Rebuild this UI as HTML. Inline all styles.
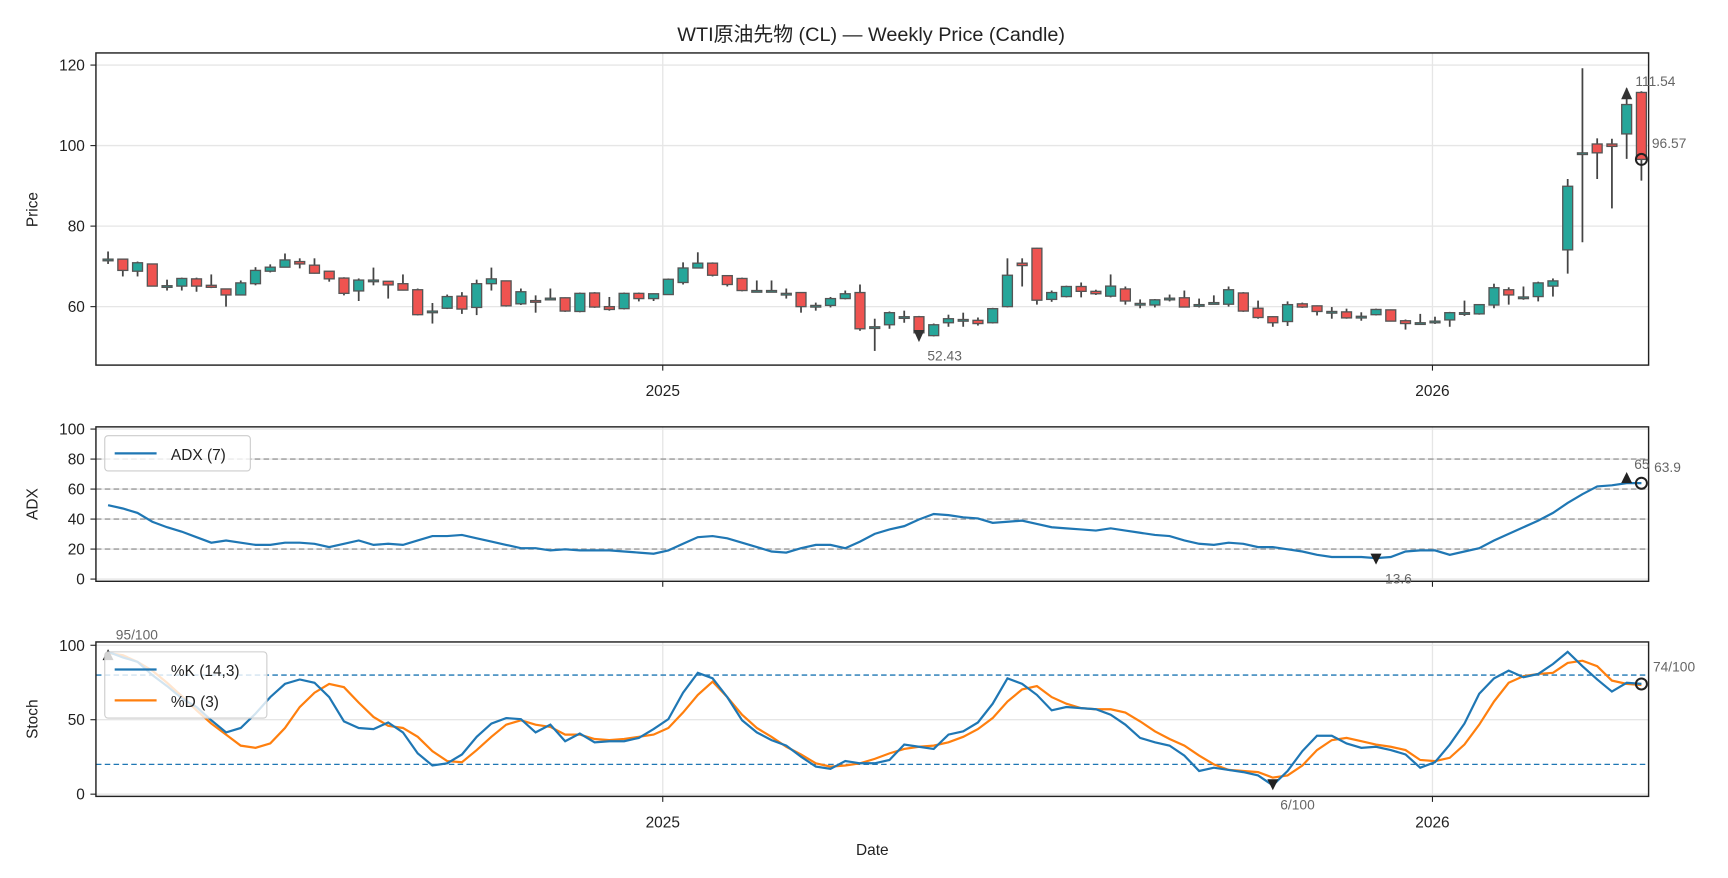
<!DOCTYPE html>
<html><head><meta charset="utf-8"><style>
html,body{margin:0;padding:0;background:#fff;}
svg{display:block;font-family:"Liberation Sans","Noto Sans CJK JP",sans-serif;}
</style></head><body>
<svg id="s" width="1728" height="878" viewBox="0 0 1567 796" preserveAspectRatio="none" xmlns="http://www.w3.org/2000/svg">
<rect width="1567" height="796" fill="#fff"/>
<text x="790" y="37" font-size="18" text-anchor="middle" fill="#222">WTI原油先物 (CL) — Weekly Price (Candle)</text>
<g id="grid" stroke="#e6e6e6" stroke-width="1.2"></g>
<g id="p1"></g>
<g id="lines" fill="none"></g>
<g id="frames" fill="none" stroke="#222" stroke-width="1.3">
<rect x="87" y="48" width="1408" height="283"/>
<rect x="87" y="387" width="1408" height="140"/>
<rect x="87" y="582" width="1408" height="140"/>
</g>
<g id="txt" font-size="14" fill="#222"></g>
</svg>
<script>
const S=document.getElementById('s'),NS='http://www.w3.org/2000/svg';
function el(p,t,a,txt){const e=document.createElementNS(NS,t);for(const k in a)e.setAttribute(k,a[k]);if(txt!==undefined)e.textContent=txt;document.getElementById(p).appendChild(e);return e;}
const X=i=>98+13.37*i, YP=p=>278-(p-60)*3.65, YA=v=>525-1.36*v, YS=v=>720-1.35*v;
[60,80,100,120].forEach(v=>el('grid','line',{x1:87,x2:1495,y1:YP(v),y2:YP(v)}));
[0,20,40,60,80,100].forEach(v=>el('grid','line',{x1:87,x2:1495,y1:YA(v),y2:YA(v)}));
[0,50,100].forEach(v=>el('grid','line',{x1:87,x2:1495,y1:YS(v),y2:YS(v)}));
[601,1299].forEach(x=>{[[48,331],[387,527],[582,722]].forEach(r=>el('grid','line',{x1:x,x2:x,y1:r[0],y2:r[1]}));});
const C=[[71.8,71.8,73.7,70.6],[71.8,69,71.8,67.5],[68.8,70.9,71.2,67.5],[70.6,65.1,70.6,65.1],[65.2,65.2,66.7,64],[65.1,67,67.2,64],[66.9,65.1,67.2,63.7],[65.3,64.8,68,64.6],[64.4,62.9,64.5,60],[62.9,65.9,66.5,62.9],[65.7,69,69.8,65.3],[68.8,69.8,70.5,68.5],[69.8,71.6,73.2,69.8],[71.2,70.6,72,69.5],[70.3,68.3,72,68.2],[68.8,66.9,68.8,66.2],[67.1,63.3,67.3,62.8],[63.9,66.6,67,61.4],[66.6,66.6,69.7,65.3],[66.3,65.4,66.3,62],[65.7,64.1,68,64],[64.2,58,64.5,57.8],[58.9,58.9,60.9,55.8],[59.6,62.5,63,59.4],[62.6,59.4,63.6,58.2],[59.8,65.7,66.7,57.9],[65.7,66.9,69.7,64],[66.4,60.2,66.5,60],[60.7,63.7,64.5,60.4],[61.5,61.1,62.8,58.5],[62.1,62.1,64.5,61.8],[62.2,58.9,62.3,58.7],[58.8,63.3,63.5,58.6],[63.4,59.9,63.6,59.7],[60,59.3,62.4,59],
[59.5,63.3,63.5,59.3],[63.3,62,63.5,61.3],[62,63.2,63.3,61.4],[63,66.8,67,62.9],[66,69.6,71,65.5],[69.6,70.8,73.5,69.5],[70.8,67.8,71,67.5],[67.7,65.5,67.8,65],[67,64,67.2,63.8],[64,64,66.5,63.8],[64,64,66.5,63.8],[63.3,63.3,64.5,62],[63.5,60,63.6,58.5],[60.3,60.3,61,59],[60.3,62,62.4,59.8],[62,63.2,64,61.8],[63.5,54.5,65.5,54],[55,55,57,49],[55.5,58.5,58.8,54.5],[57.5,57.5,59,56],[57.5,53.5,57.7,52.43],[52.8,55.5,55.8,52.6],[56,57,58,55],[56.8,56.8,58.5,55],[56.6,55.8,57.3,55.3],[56,59.5,59.7,55.8],[60,67.8,72,59.8],[70.8,70.2,72,65],[74.5,61.6,74.6,60.5],[61.8,63.5,64,61.2],[62.5,65,65.2,62.3],[65,63.8,66,62.3],[63.8,63.2,64.2,62.9],[62.6,65.1,68,62.3],
[64.4,61.4,65,60.5],[60.8,60.8,61.8,59.6],[60.4,61.7,61.9,59.8],[62.1,62.1,63,61.3],[62.2,59.9,64,59.8],[60.5,60.5,62,59.8],[61,61,62.8,60.8],[60.6,64.2,65,60],[63.4,58.9,63.6,58.7],[59.6,57.3,61.5,57],[57.5,56,57.6,55],[56.3,60.5,61.3,55.2],[60.7,59.9,61,59.7],[60.2,58.8,60.3,57.8],[58.8,58.8,59.9,57],[58.7,57.2,59.5,57],[57.6,57.6,58.6,56.5],[58,59.3,59.5,57.8],[59.2,56.4,59.3,56.3],[56.5,55.8,56.8,54.3],[56,56,58.2,55.9],[56.4,56.4,57.5,55.7],[56.7,58.5,58.7,55],[58.5,58.5,61.5,57.7],[58.2,60.5,60.6,58],[60.4,64.7,65.7,59.6],[64.2,62.9,64.8,60.5],[62.4,62.4,65,61.7],[62.5,65.9,66.2,61.3],[65.1,66.4,67,62.5],[74.1,89.9,91.7,68.2],[97.8,98.2,119.2,76],[100.4,98.2,101.8,91.7],[100.4,99.8,101.7,84.4],[102.9,110.2,114.2,96.7],[113.2,96.57,113.5,91.3]];
C.forEach((c,i)=>{const x=X(i),[o,cl,h,l]=c,up=cl>=o;
el('p1','line',{x1:x,x2:x,y1:YP(h),y2:YP(l),stroke:'#444','stroke-width':1.6});
const t=YP(Math.max(o,cl)),b=YP(Math.min(o,cl));
el('p1','rect',{x:x-4.5,y:t,width:9,height:Math.max(b-t,1.5),fill:up?'#26a69a':'#ef5350',stroke:'#555','stroke-width':1.2});});
el('p1','path',{d:`M${X(103)-5},${YP(111.5)} l5,-11 l5,11z`,fill:'#333'});
el('p1','path',{d:`M${X(55)-5},${YP(54.2)} l5,11 l5,-11z`,fill:'#333'});
el('p1','circle',{cx:X(104),cy:YP(96.57),r:5,fill:'none',stroke:'#222','stroke-width':1.8});
const ax=[458,461,465,473,478,482,487,492,490,492,494,494,492,492,493,496,493,490,494,493,494,490,486,486,485,488,491,494,497,497,499,498,499,499,499,500,501,502,499,493,487,486,488,492,496,500,501,497,494,494,497,491,484,480,477,471,466,467,469,470,474,473,472,475,478,479,480,481,479,481,483,485,486,490,493,494,492,493,496,496,498,500,503,505,505,505,506,505,500,499,499,503,500,497,490,484,478,472,465,456,448,441,440,438,438];
const K=[591,596,600,612,622,633,641,653,664,660,647,632,620,616,619,632,654,660,661,655,664,683,694,692,684,668,656,651,652,664,657,672,665,673,672,672,669,661,652,628,610,615,632,653,664,671,676,686,695,697,690,692,692,689,675,677,679,666,663,655,638,615,620,630,644,641,642,643,648,657,669,673,676,685,699,696,698,700,703,712,699,681,667,667,674,678,677,680,684,696,691,675,656,629,615,608,614,611,602,591,604,616,627,619,620];
const D=[592,594,600,608,619,631,644,656,666,676,678,674,660,641,628,620,623,637,650,658,660,668,681,690,691,680,668,657,653,657,659,666,666,670,671,670,668,666,660,646,630,618,632,648,660,668,677,684,692,695,694,692,688,683,679,677,676,673,668,661,651,636,625,622,632,638,642,643,643,646,654,663,670,676,685,693,698,699,700,705,703,694,680,671,669,672,675,677,680,689,690,687,675,657,636,619,613,611,610,601,599,604,617,620,621];
const pts=a=>a.map((y,i)=>X(i).toFixed(1)+','+y).join(' ');
[20,40,60,80].forEach(v=>el('lines','line',{x1:87,x2:1495,y1:YA(v),y2:YA(v),stroke:'#999','stroke-dasharray':'5,3','stroke-width':1.2}));
[20,80].forEach(v=>el('lines','line',{x1:87,x2:1495,y1:YS(v),y2:YS(v),stroke:'#1f77b4','stroke-dasharray':'5,3','stroke-width':1.2}));
el('lines','polyline',{points:pts(ax),stroke:'#1f77b4','stroke-width':2});
el('lines','polyline',{points:pts(D),stroke:'#ff7f0e','stroke-width':2});
el('lines','polyline',{points:pts(K),stroke:'#1f77b4','stroke-width':2});
el('lines','path',{d:`M${X(103)-5},${YA(64)} l5,-10 l5,10z`,fill:'#222'});
el('lines','path',{d:`M${X(86)-5},${YA(17)} l5,10 l5,-10z`,fill:'#222'});
el('lines','circle',{cx:X(104),cy:YA(63.9),r:5,stroke:'#222','stroke-width':1.8});
el('lines','path',{d:`M${X(0)-5},${YS(90)} l5,-10 l5,10z`,fill:'#222'});
el('lines','path',{d:`M${X(79)-5},${YS(10)} l5,10 l5,-10z`,fill:'#222'});
el('lines','circle',{cx:X(104),cy:YS(74),r:5,stroke:'#222','stroke-width':1.8});
el('lines','rect',{x:95,y:395,width:132,height:32,rx:3,fill:'rgba(255,255,255,0.8)',stroke:'#ccc'});
el('lines','line',{x1:104,x2:142,y1:411,y2:411,stroke:'#1f77b4','stroke-width':2});
el('lines','rect',{x:95,y:591,width:147,height:60,rx:3,fill:'rgba(255,255,255,0.8)',stroke:'#ccc'});
el('lines','line',{x1:104,x2:142,y1:607,y2:607,stroke:'#1f77b4','stroke-width':2});
el('lines','line',{x1:104,x2:142,y1:635,y2:635,stroke:'#ff7f0e','stroke-width':2});
const T=(x,y,s,o)=>el('txt','text',Object.assign({x:x,y:y},o||{}),s);
T(155,417,'ADX (7)');T(155,613,'%K (14,3)');T(155,641,'%D (3)');
[60,80,100,120].forEach(v=>T(77,YP(v)+5,v,{'text-anchor':'end'}));
[0,20,40,60,80,100].forEach(v=>T(77,YA(v)+5,v,{'text-anchor':'end'}));
[0,50,100].forEach(v=>T(77,YS(v)+5,v,{'text-anchor':'end'}));
[[601,359],[1299,359],[601,750],[1299,750]].forEach(p=>T(p[0],p[1],p[0]<900?'2025':'2026',{'text-anchor':'middle'}));
T(791,775,'Date',{'text-anchor':'middle'});
T(34,190,'Price',{transform:'rotate(-90 34 190)','text-anchor':'middle'});
T(34,457,'ADX',{transform:'rotate(-90 34 457)','text-anchor':'middle'});
T(34,652,'Stoch',{transform:'rotate(-90 34 652)','text-anchor':'middle'});
const g={fill:'#666','font-size':12.5};
T(1483,78,'111.54',g);T(1498,134,'96.57',g);T(841,327,'52.43',g);
T(1482,425,'65',g);T(1500,428,'63.9',g);T(1256,529,'13.6',g);
T(105,580,'95/100',g);T(1499,609,'74/100',g);T(1161,734,'6/100',g);
const tk=el('txt','g',{stroke:'#222','stroke-width':1});
function tl(x1,y1,x2,y2){const e=document.createElementNS(NS,'line');e.setAttribute('x1',x1);e.setAttribute('y1',y1);e.setAttribute('x2',x2);e.setAttribute('y2',y2);tk.appendChild(e);}
[60,80,100,120].forEach(v=>tl(82,YP(v),87,YP(v)));
[0,20,40,60,80,100].forEach(v=>tl(82,YA(v),87,YA(v)));
[0,50,100].forEach(v=>tl(82,YS(v),87,YS(v)));
[601,1299].forEach(x=>{tl(x,331,x,336);tl(x,527,x,532);tl(x,722,x,727);});
</script>
</body></html>
